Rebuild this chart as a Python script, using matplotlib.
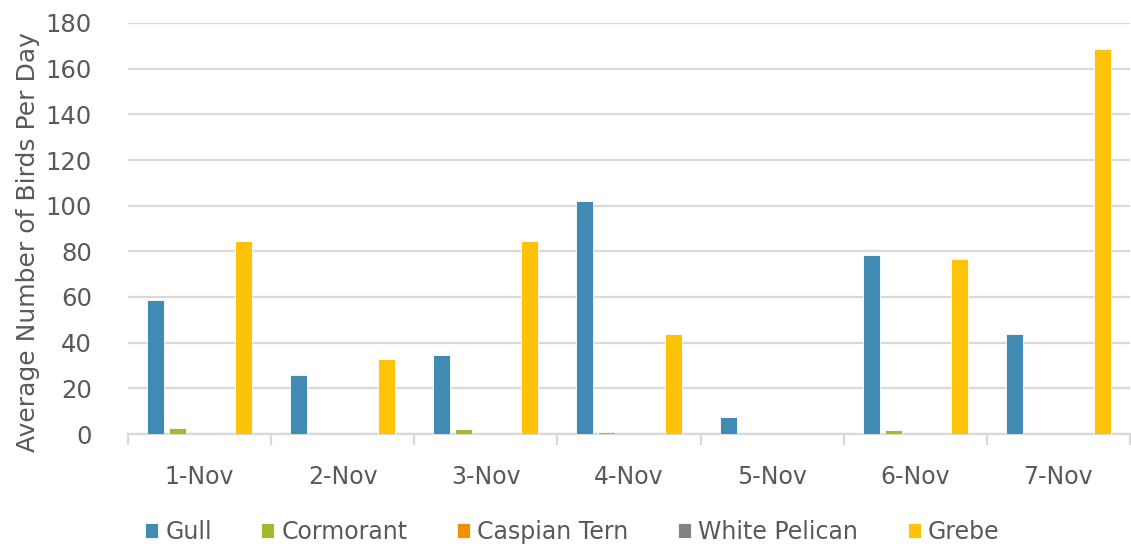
import numpy as np
import matplotlib.pyplot as plt

days = ['1-Nov', '2-Nov', '3-Nov', '4-Nov', '5-Nov', '6-Nov', '7-Nov']
gull = [58.5, 25.8, 34.4, 102, 7.5, 78.6, 44]
cormorant = [2.8, 0, 2, 0.7, 0, 1.7, 0]
caspian_tern = [0, 0, 0, 0, 0, 0, 0]
white_pelican = [0, 0, 0, 0, 0, 0, 0]
grebe = [84.5, 33, 84.5, 44, 0, 76.7, 168.5]

series = [('Gull', gull, '#418ab3'),
          ('Cormorant', cormorant, '#a5b92e'),
          ('Caspian Tern', caspian_tern, '#f39000'),
          ('White Pelican', white_pelican, '#838383'),
          ('Grebe', grebe, '#fec306')]

plt.rcParams['font.family'] = ['DejaVu Sans']
txt = '#595959'

fig = plt.figure(figsize=(11.31, 5.46), dpi=100)
ax = fig.add_axes([128/1131, 1 - 434/546, 1002/1131, 411/546])

x = np.arange(len(days))
slot = 0.154
for i, (name, vals, col) in enumerate(series):
    h = [v if v > 0 else np.nan for v in vals]
    ax.bar(x + (i - 2) * slot, h, width=0.119, color=col, label=name,
           edgecolor='white', linewidth=0.6, zorder=3)

ax.set_xlim(-0.5, len(days) - 0.5)
ax.set_ylim(0, 180)
ax.set_yticks(range(0, 181, 20))
ax.grid(axis='y', color='#d9d9d9', linewidth=1.6, zorder=0)
for s in ['top', 'right', 'left']:
    ax.spines[s].set_visible(False)
ax.spines['bottom'].set_color('#d9d9d9')
ax.spines['bottom'].set_linewidth(1.6)

ax.set_xticks(x)
ax.set_xticklabels(days)
ax.set_xticks(np.arange(-0.5, len(days)), minor=True)
ax.tick_params(axis='x', which='major', length=0, pad=22, labelsize=17, labelcolor=txt)
ax.tick_params(axis='x', which='minor', length=8, width=1.6, color='#d9d9d9')
ax.tick_params(axis='y', length=0, pad=26, labelsize=17.5, labelcolor=txt)

ax.set_ylabel('Average Number of Birds Per Day', fontsize=18, color=txt)
ax.yaxis.set_label_coords(-0.088, 0.467)

leg = fig.legend(loc='lower center', bbox_to_anchor=(0.506, -0.035), ncol=5, frameon=False,
                 fontsize=17, handlelength=0.55, handleheight=0.55, handletextpad=0.3,
                 columnspacing=2.1)
for t in leg.get_texts():
    t.set_color(txt)

fig.savefig('out.png', dpi=100)
